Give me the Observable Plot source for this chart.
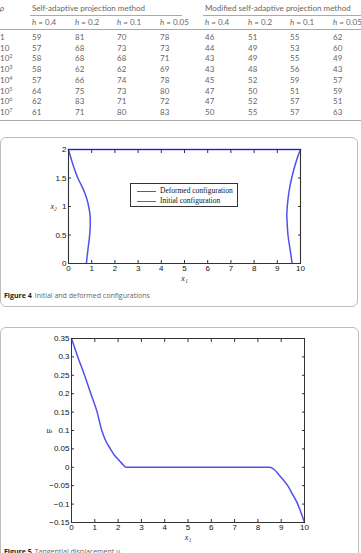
<!DOCTYPE html>
<html><head><meta charset="utf-8">
<script src="https://cdn.jsdelivr.net/npm/d3@7"></script>
<script src="https://cdn.jsdelivr.net/npm/@observablehq/plot@0.6"></script>
<style>
html,body{margin:0;padding:0;background:#fff}
body{width:361px;height:553px;overflow:hidden;position:relative;font-family:"Open Sans","Noto Sans",sans-serif}
.cell{position:absolute;font-family:Lato,"Open Sans",sans-serif;font-size:8px;color:#666;white-space:nowrap;line-height:1;transform:translateY(-50%)}
.cell sup{font-size:5.5px;vertical-align:3.5px;line-height:0}
.hr{position:absolute;height:0;border-top:1px solid #aaa}
.panel{position:absolute;border:1px solid #bdbdbd;border-radius:6px;box-sizing:border-box}
.chart{position:absolute;left:0}
.caption{position:absolute;font-size:7px;color:#666;white-space:nowrap;line-height:1}
.caption b{color:#222;font-weight:700;margin-right:3px}
.legend{position:absolute;background:#fff;border:1px solid #333;box-sizing:border-box;font-family:"Liberation Serif","DejaVu Serif",serif;font-size:7.5px;color:#111}
.legend .row{position:absolute;left:0}
.legend .sw{position:absolute;left:6px;top:4px;width:19px;height:1px}
.legend .tx{position:absolute;left:29px;top:0;white-space:nowrap;line-height:8px}
</style></head><body>
<div id="table"></div>
<div class="panel" style="left:0;top:137px;width:358px;height:170px"></div>
<div class="chart" id="c1" style="top:140px"></div>
<div class="caption" style="left:4px;top:292px"><b>Figure 4</b>Initial and deformed configurations</div>
<div class="panel" style="left:0;top:327px;width:359px;height:260px"></div>
<div class="chart" id="c2" style="top:330px"></div>
<div class="caption" style="left:4px;top:548px"><b>Figure 5</b>Tangential displacement <i>u</i><sub style="font-size:5px">t</sub></div>
<script>
// ---------- Table data ----------
const rhoExponents = [0, 1, 2, 3, 4, 5, 6, 7];
const hValues = ["0.4", "0.2", "0.1", "0.05"];
const methodNames = ["Self-adaptive projection method", "Modified self-adaptive projection method"];
const selfAdaptive = [
  [59, 81, 70, 78], [57, 68, 73, 73], [58, 68, 68, 71], [58, 62, 62, 69],
  [57, 66, 74, 78], [64, 75, 73, 80], [62, 83, 71, 72], [61, 71, 80, 83]
];
const modifiedSelfAdaptive = [
  [46, 51, 55, 62], [44, 49, 53, 60], [43, 49, 55, 49], [43, 48, 56, 43],
  [45, 52, 59, 57], [47, 50, 51, 59], [47, 52, 57, 51], [50, 55, 57, 63]
];

// ---------- Figure 4 data (x1, x2) ----------
const leftX1  = [0, 0.18, 0.4, 0.56, 0.69, 0.8, 0.87, 0.92, 0.94, 0.93, 0.9, 0.84, 0.77];
const leftX2  = [2, 1.75, 1.5, 1.37, 1.25, 1.12, 1.0, 0.88, 0.75, 0.6, 0.45, 0.25, 0];
const rightX1 = [10, 9.82, 9.62, 9.5, 9.43, 9.41, 9.42, 9.46, 9.55, 9.64];
const rightX2 = [2, 1.8, 1.5, 1.25, 1.0, 0.85, 0.75, 0.5, 0.25, 0];
const initX1 = [0, 10, 10, 0, 0];
const initX2 = [0, 0, 2, 2, 0];
const fig4XTicks = [0, 1, 2, 3, 4, 5, 6, 7, 8, 9, 10];
const fig4YTicks = [0, 0.5, 1, 1.5, 2];

// ---------- Figure 5 data (x1, u_t) ----------
const utX1 = [0, 0.27, 0.56, 0.83, 1.1, 1.3, 1.45, 1.67, 1.85, 2.03, 2.2, 2.35, 8.5, 8.7, 8.9, 9.1, 9.28, 9.5, 9.71, 9.86, 10];
const utY  = [0.35, 0.3, 0.25, 0.2, 0.15, 0.1, 0.075, 0.05, 0.032, 0.02, 0.008, 0, 0, -0.006, -0.02, -0.035, -0.05, -0.075, -0.1, -0.125, -0.15];
const fig5XTicks = [0, 1, 2, 3, 4, 5, 6, 7, 8, 9, 10];
const fig5YTicks = [-0.15, -0.1, -0.05, 0, 0.05, 0.1, 0.15, 0.2, 0.25, 0.3, 0.35];

// ---------- Build table ----------
const T = document.getElementById("table");
function cell(html, x, y) {
  const d = document.createElement("div");
  d.className = "cell"; d.innerHTML = html;
  d.style.left = x + "px"; d.style.top = y + "px";
  T.appendChild(d);
}
function hr(x1, x2, y) {
  const d = document.createElement("div");
  d.className = "hr"; d.style.left = x1 + "px"; d.style.width = (x2 - x1) + "px"; d.style.top = y + "px";
  T.appendChild(d);
}
const colX = [32, 75, 117, 160, 205, 248, 290, 333];
const headY = 8, hY = 22, rowY0 = 37, rowStep = 10.7;
cell("<i>ρ</i>", 0, headY);
cell(methodNames[0], colX[0], headY);
cell(methodNames[1], colX[4], headY);
hr(30, 182, 15); hr(203, 361, 15);
[0, 1].forEach(g => hValues.forEach((h, j) => cell(`<i>h</i> = ${h}`, colX[g * 4 + j], hY)));
hr(0, 361, 29);
rhoExponents.forEach((e, i) => {
  const y = rowY0 + i * rowStep;
  cell(e === 0 ? "1" : e === 1 ? "10" : `10<sup>${e}</sup>`, 0, y);
  selfAdaptive[i].forEach((v, j) => cell(String(v), colX[j], y));
  modifiedSelfAdaptive[i].forEach((v, j) => cell(String(v), colX[4 + j], y));
});
hr(0, 361, 120);

// ---------- Chart helpers ----------
const blue = "#5050ee", red = "#d83a3a", axisCol = "#333";
const fmt = d => String(+d.toFixed(2)).replace("-", "\u2212");
function frameAxes(xt, yt) {
  return [
    Plot.frame({stroke: axisCol}),
    Plot.axisX({ticks: xt, tickSize: -3, tickPadding: 5, tickFormat: fmt, label: null, stroke: axisCol, fill: "#111"}),
    Plot.axisX({anchor: "top", ticks: xt, tickSize: -3, tickFormat: () => "", label: null, stroke: axisCol}),
    Plot.axisY({ticks: yt, tickSize: -3, tickPadding: 5, tickFormat: fmt, label: null, stroke: axisCol, fill: "#111"}),
    Plot.axisY({anchor: "right", ticks: yt, tickSize: -3, tickFormat: () => "", label: null, stroke: axisCol})
  ];
}
const labStyle = {fontFamily: "Liberation Serif, DejaVu Serif, serif", fontStyle: "italic", fontSize: 8, fill: "#222"};

// ---------- Figure 4 ----------
const leftPts = leftX1.map((x, i) => ({x, y: leftX2[i]}));
const rightPts = rightX1.map((x, i) => ({x, y: rightX2[i]}));
const topPts = [{x: initX1[2], y: initX2[2]}, {x: initX1[3], y: initX2[3]}];
const initPts = initX1.map((x, i) => ({x, y: initX2[i]}));
const c1 = Plot.plot({
  width: 361, height: 150, marginLeft: 68, marginRight: 61, marginTop: 9, marginBottom: 27,
  x: {domain: [0, 10]}, y: {domain: [0, 2]},
  style: {fontFamily: "Liberation Sans, Arial, sans-serif", fontSize: "8px", background: "transparent", overflow: "visible"},
  marks: [
    Plot.line(leftPts, {x: "x", y: "y", stroke: blue, curve: "catmull-rom"}),
    Plot.line(rightPts, {x: "x", y: "y", stroke: blue, curve: "catmull-rom"}),
    Plot.line(topPts, {x: "x", y: "y", stroke: blue}),
    Plot.line(initPts, {x: "x", y: "y", stroke: red, strokeOpacity: 0.75, strokeWidth: 1.2}),
    ...frameAxes(fig4XTicks, fig4YTicks),
    Plot.text(["x₁"], {x: d3.mean([0, 10]), frameAnchor: "bottom", dy: 17, ...labStyle}),
    Plot.text(["x₂"], {y: d3.mean([0, 2]), frameAnchor: "left", dx: -18, ...labStyle})
  ]
});
document.getElementById("c1").appendChild(c1);

// legend for figure 4
const legendItems = [{label: "Deformed configuration", color: blue}, {label: "Initial configuration", color: red}];
const lg = document.createElement("div");
lg.className = "legend";
Object.assign(lg.style, {left: "130px", top: "183px", width: "108px", height: "24px"});
legendItems.forEach((it, i) => {
  const r = document.createElement("div");
  r.className = "row"; r.style.top = (3 + i * 10) + "px"; r.style.width = "100%"; r.style.height = "8px";
  r.innerHTML = `<span class="sw" style="background:${it.color}"></span><span class="tx">${it.label}</span>`;
  lg.appendChild(r);
});
document.body.appendChild(lg);

// ---------- Figure 5 ----------
const utPts = utX1.map((x, i) => ({x, y: utY[i]}));
const c2 = Plot.plot({
  width: 361, height: 223, marginLeft: 71, marginRight: 57, marginTop: 8, marginBottom: 31,
  x: {domain: [0, 10]}, y: {domain: [-0.15, 0.35]},
  style: {fontFamily: "Liberation Sans, Arial, sans-serif", fontSize: "8px", background: "transparent", overflow: "visible"},
  marks: [
    Plot.line(utPts, {x: "x", y: "y", stroke: blue, curve: "monotone-x"}),
    ...frameAxes(fig5XTicks, fig5YTicks),
    Plot.text(["x₁"], {x: d3.mean([0, 10]), frameAnchor: "bottom", dy: 17, ...labStyle}),
    Plot.text(["u\u209C"], {y: d3.mean([-0.15, 0.35]), frameAnchor: "left", dx: -25, ...labStyle})
  ]
});
document.getElementById("c2").appendChild(c2);
</script>
</body></html>
